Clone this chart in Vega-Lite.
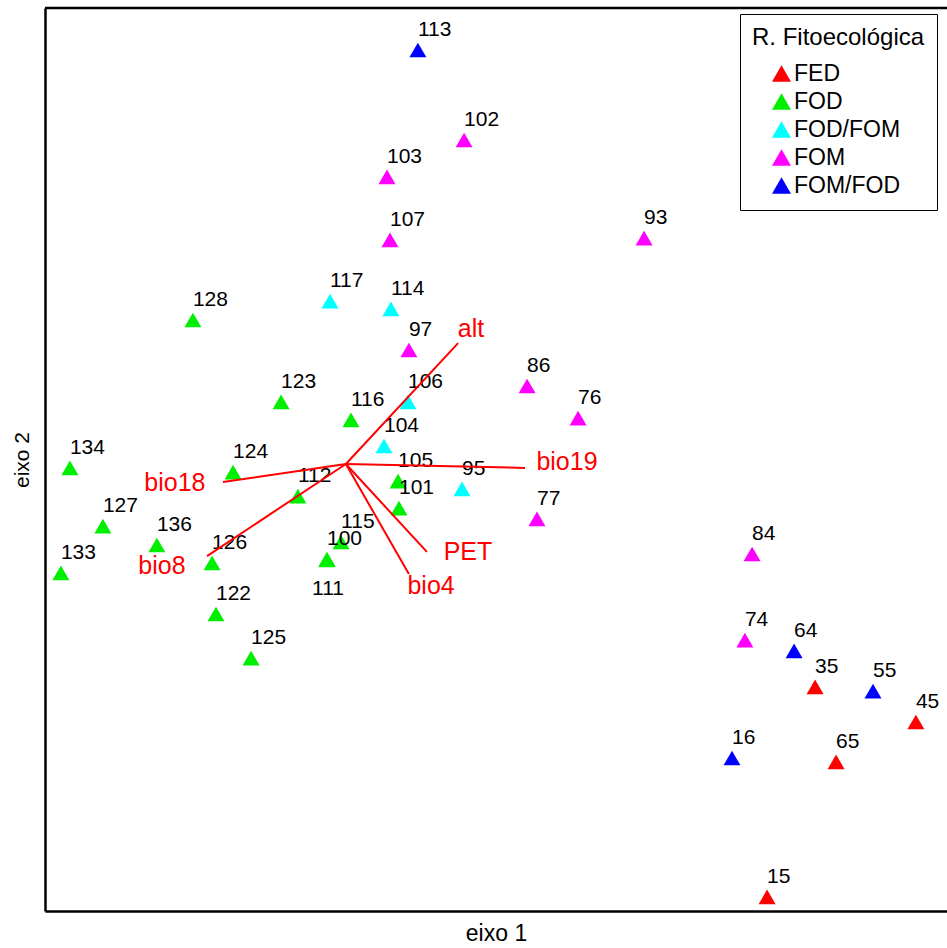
{
  "$schema": "https://vega.github.io/schema/vega-lite/v6.json",
  "width": 902,
  "height": 903,
  "autosize": {"type": "none"},
  "padding": {"left": 45, "top": 8, "right": 0, "bottom": 37},
  "background": "white",
  "config": {
    "view": {"stroke": null},
    "font": "Liberation Sans",
    "axisX": {"ticks": false, "labels": false, "grid": false, "domainColor": "black", "domainWidth": 2.5, "titleFontSize": 23, "titleFont": "Liberation Sans", "titleFontWeight": "normal", "titleColor": "black", "titlePadding": 11},
    "axisY": {"ticks": false, "labels": false, "grid": false, "domainColor": "black", "domainWidth": 2.5, "titleFontSize": 21, "titleFont": "Liberation Sans", "titleFontWeight": "normal", "titleColor": "black", "titlePadding": 13}
  },
  "datasets": {
    "sites": [
      {"id": "15", "group": "FED", "x": 0.907, "y": -1.453},
      {"id": "35", "group": "FED", "x": 1.067, "y": -0.753},
      {"id": "45", "group": "FED", "x": 1.403, "y": -0.870},
      {"id": "65", "group": "FED", "x": 1.137, "y": -1.003},
      {"id": "16", "group": "FOM/FOD", "x": 0.790, "y": -0.990},
      {"id": "55", "group": "FOM/FOD", "x": 1.260, "y": -0.767},
      {"id": "64", "group": "FOM/FOD", "x": 0.997, "y": -0.633},
      {"id": "113", "group": "FOM/FOD", "x": -0.257, "y": 1.370},
      {"id": "74", "group": "FOM", "x": 0.833, "y": -0.597},
      {"id": "76", "group": "FOM", "x": 0.277, "y": 0.143},
      {"id": "77", "group": "FOM", "x": 0.140, "y": -0.193},
      {"id": "84", "group": "FOM", "x": 0.857, "y": -0.310},
      {"id": "86", "group": "FOM", "x": 0.107, "y": 0.250},
      {"id": "93", "group": "FOM", "x": 0.497, "y": 0.743},
      {"id": "97", "group": "FOM", "x": -0.287, "y": 0.370},
      {"id": "102", "group": "FOM", "x": -0.103, "y": 1.070},
      {"id": "103", "group": "FOM", "x": -0.360, "y": 0.947},
      {"id": "107", "group": "FOM", "x": -0.350, "y": 0.737},
      {"id": "95", "group": "FOD/FOM", "x": -0.110, "y": -0.093},
      {"id": "104", "group": "FOD/FOM", "x": -0.370, "y": 0.050},
      {"id": "106", "group": "FOD/FOM", "x": -0.290, "y": 0.197},
      {"id": "114", "group": "FOD/FOM", "x": -0.347, "y": 0.507},
      {"id": "117", "group": "FOD/FOM", "x": -0.550, "y": 0.533},
      {"id": "100", "group": "FOD", "x": -0.560, "y": -0.327},
      {"id": "101", "group": "FOD", "x": -0.320, "y": -0.157},
      {"id": "105", "group": "FOD", "x": -0.323, "y": -0.067},
      {"id": "111", "group": "FOD", "x": -0.560, "y": -0.330},
      {"id": "112", "group": "FOD", "x": -0.657, "y": -0.117},
      {"id": "115", "group": "FOD", "x": -0.513, "y": -0.270},
      {"id": "116", "group": "FOD", "x": -0.480, "y": 0.137},
      {"id": "122", "group": "FOD", "x": -0.930, "y": -0.510},
      {"id": "123", "group": "FOD", "x": -0.713, "y": 0.197},
      {"id": "124", "group": "FOD", "x": -0.873, "y": -0.037},
      {"id": "125", "group": "FOD", "x": -0.813, "y": -0.657},
      {"id": "126", "group": "FOD", "x": -0.943, "y": -0.340},
      {"id": "127", "group": "FOD", "x": -1.307, "y": -0.217},
      {"id": "128", "group": "FOD", "x": -1.007, "y": 0.470},
      {"id": "133", "group": "FOD", "x": -1.447, "y": -0.373},
      {"id": "134", "group": "FOD", "x": -1.417, "y": -0.023},
      {"id": "136", "group": "FOD", "x": -1.127, "y": -0.280}
    ],
    "vectors": [
      {"var": "alt", "x0": -0.497, "y0": -0.010, "x1": -0.123, "y1": 0.393, "lx": -0.080, "ly": 0.440},
      {"var": "bio19", "x0": -0.497, "y0": -0.010, "x1": 0.100, "y1": -0.023, "lx": 0.240, "ly": -0.003},
      {"var": "bio18", "x0": -0.497, "y0": -0.010, "x1": -0.907, "y1": -0.070, "lx": -1.067, "ly": -0.073},
      {"var": "bio8", "x0": -0.497, "y0": -0.010, "x1": -0.960, "y1": -0.317, "lx": -1.110, "ly": -0.350},
      {"var": "PET", "x0": -0.497, "y0": -0.010, "x1": -0.227, "y1": -0.303, "lx": -0.090, "ly": -0.303},
      {"var": "bio4", "x0": -0.497, "y0": -0.010, "x1": -0.287, "y1": -0.377, "lx": -0.213, "ly": -0.417}
    ]
  },
  "layer": [
    {
      "data": {"name": "sites"},
      "mark": {"type": "point", "shape": "triangle-up", "filled": true, "size": 289, "opacity": 1, "strokeWidth": 0},
      "encoding": {
        "x": {"field": "x", "type": "quantitative", "title": "eixo 1", "scale": {"domain": [-1.5, 1.5067], "nice": false, "zero": false}},
        "y": {"field": "y", "type": "quantitative", "title": "eixo 2", "scale": {"domain": [-1.5, 1.51], "nice": false, "zero": false}},
        "color": {
          "field": "group", "type": "nominal",
          "scale": {"domain": ["FED", "FOD", "FOD/FOM", "FOM", "FOM/FOD"], "range": ["#FF0000", "#00EE00", "#00FFFF", "#FF00FF", "#0000FF"]},
          "legend": {
            "title": "R. Fitoecológica", "orient": "none", "legendX": 695, "legendY": 6,
            "titleFontSize": 24, "titleFont": "Liberation Sans", "titleFontWeight": "normal", "titleColor": "black", "titlePadding": 12,
            "labelFontSize": 23, "labelFont": "Liberation Sans", "labelColor": "black", "labelOffset": 1,
            "symbolType": "triangle-up", "symbolSize": 361, "symbolOffset": 18, "symbolStrokeWidth": 0,
            "rowPadding": 4, "padding": 12, "strokeColor": "black", "fillColor": "white"
          }
        }
      }
    },
    {
      "data": {"name": "sites"},
      "transform": [{"filter": "datum.id != '111'"}],
      "mark": {"type": "text", "align": "left", "baseline": "alphabetic", "dx": 0, "dy": -14, "fontSize": 21, "color": "black", "font": "Liberation Sans"},
      "encoding": {
        "x": {"field": "x", "type": "quantitative", "title": "eixo 1", "scale": {"domain": [-1.5, 1.5067], "nice": false, "zero": false}},
        "y": {"field": "y", "type": "quantitative", "title": "eixo 2", "scale": {"domain": [-1.5, 1.51], "nice": false, "zero": false}},
        "text": {"field": "id"}
      }
    },
    {
      "data": {"name": "sites"},
      "transform": [{"filter": "datum.id == '111'"}],
      "mark": {"type": "text", "align": "center", "baseline": "alphabetic", "dx": 1, "dy": 35, "fontSize": 21, "color": "black", "font": "Liberation Sans"},
      "encoding": {
        "x": {"field": "x", "type": "quantitative", "title": "eixo 1", "scale": {"domain": [-1.5, 1.5067], "nice": false, "zero": false}},
        "y": {"field": "y", "type": "quantitative", "title": "eixo 2", "scale": {"domain": [-1.5, 1.51], "nice": false, "zero": false}},
        "text": {"field": "id"}
      }
    },
    {
      "data": {"name": "vectors"},
      "mark": {"type": "rule", "color": "#FF0000", "strokeWidth": 2},
      "encoding": {
        "x": {"field": "x0", "type": "quantitative", "title": "eixo 1", "scale": {"domain": [-1.5, 1.5067], "nice": false, "zero": false}},
        "y": {"field": "y0", "type": "quantitative", "title": "eixo 2", "scale": {"domain": [-1.5, 1.51], "nice": false, "zero": false}},
        "x2": {"field": "x1"},
        "y2": {"field": "y1"}
      }
    },
    {
      "data": {"name": "vectors"},
      "mark": {"type": "text", "align": "center", "baseline": "middle", "fontSize": 25, "color": "#FF0000", "font": "Liberation Sans"},
      "encoding": {
        "x": {"field": "lx", "type": "quantitative", "title": "eixo 1", "scale": {"domain": [-1.5, 1.5067], "nice": false, "zero": false}},
        "y": {"field": "ly", "type": "quantitative", "title": "eixo 2", "scale": {"domain": [-1.5, 1.51], "nice": false, "zero": false}},
        "text": {"field": "var"}
      }
    },
    {
      "data": {"values": [{}]},
      "mark": {"type": "rule", "color": "black", "strokeWidth": 2.5},
      "encoding": {
        "y": {"datum": 1.51, "type": "quantitative", "title": "eixo 2", "scale": {"domain": [-1.5, 1.51], "nice": false, "zero": false}}
      }
    }
  ]
}
